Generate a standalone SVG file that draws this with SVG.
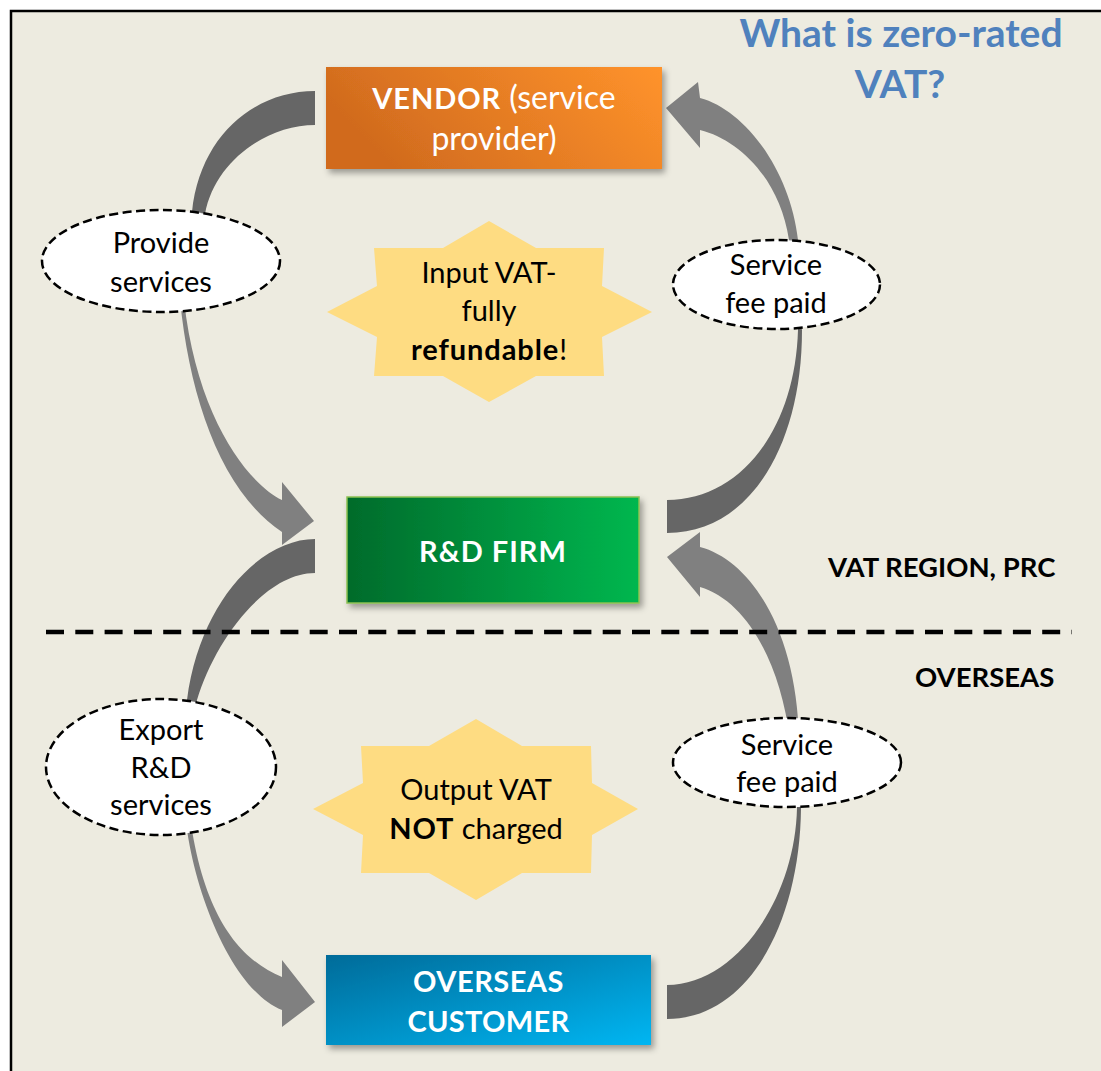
<svg xmlns="http://www.w3.org/2000/svg" width="1101" height="1071" viewBox="0 0 1101 1071">
  <defs>
    <linearGradient id="gVendor" x1="0" y1="0.3" x2="1" y2="0">
      <stop offset="0" stop-color="#D16B1E"/>
      <stop offset="1" stop-color="#FF932B"/>
    </linearGradient>
    <linearGradient id="gFirm" x1="0" y1="0" x2="1" y2="0">
      <stop offset="0" stop-color="#006B2B"/>
      <stop offset="1" stop-color="#00B74F"/>
    </linearGradient>
    <linearGradient id="gCust" x1="0" y1="0" x2="1" y2="1">
      <stop offset="0" stop-color="#006B99"/>
      <stop offset="1" stop-color="#00B6F2"/>
    </linearGradient>
    <filter id="shadow" x="-10%" y="-10%" width="125%" height="135%">
      <feDropShadow dx="3" dy="4" stdDeviation="3" flood-color="#000" flood-opacity="0.35"/>
    </filter>
    <style>
      .back { fill: #666666; }
      .front { fill: #808080; }
      .bubble { fill: #FFFFFF; stroke: #000; stroke-width: 2.5; stroke-dasharray: 9 4.5; }
      .star { fill: #FEDC82; }
      .t { font-family: Lato, "Open Sans", sans-serif; font-size: 29px; fill: #000; text-anchor: middle; }
      .w { fill: #FFFFFF; }
      .b { font-weight: bold; letter-spacing: 0.9px; }
      .lbl { font-family: Lato, "Open Sans", sans-serif; font-size: 27.5px; font-weight: bold; fill: #000; }
      .title { font-family: Lato, "Open Sans", sans-serif; font-size: 39px; font-weight: bold; fill: #4F81BD; text-anchor: middle; }
    </style>
  </defs>

  <!-- page -->
  <rect x="0" y="0" width="1101" height="1071" fill="#FFFFFF"/>
  <rect x="11" y="11" width="1100" height="1070" fill="#EDEBE0" stroke="#000" stroke-width="2.5"/>

  <!-- curved arrows -->
  <g id="connectors">
    <!-- vendor to R&D firm (left, upper) -->
    <path class="back" d="M315,91 C255,91 200,135 192,212 L182,300 L205,214 C215,160 268,125 315,125 Z"/>
    <path class="front" d="M180,300 C190,400 222,492 282,532 L282,545 L314,521 L282,482 L282,500 C250,485 197,420 184,300 Z"/>
    <!-- R&D firm to vendor (right, upper) -->
    <path class="back" d="M667,533 C750,533 802,445 802,330 L794,300 L798,330 C795,430 740,500 667,500 Z"/>
    <path class="front" d="M700,98 C745,110 790,170 798,240 L792,280 L789,240 C780,180 740,140 700,130 L700,148 L666,108 L698,82 Z"/>
    <!-- R&D firm to overseas customer (left, lower) -->
    <path class="back" d="M315,539 C262,539 200,600 187,700 L185,760 L197,700 C215,640 265,573 315,573 Z"/>
    <path class="front" d="M184,800 C188,880 230,990 282,1010 L282,1027 L315,1002 L282,960 L282,977 C240,960 200,915 188,800 Z"/>
    <!-- overseas customer to R&D firm (right, lower) -->
    <path class="back" d="M667,1019 C750,1019 800,920 801,808 L797,790 L797,808 C795,900 735,985 667,985 Z"/>
    <path class="front" d="M700,547 C750,560 797,630 799,740 L790,740 C780,660 745,600 700,587 L700,597 L667,557 L700,532 Z"/>
  </g>

  <!-- region divider -->
  <line id="divider" x1="46" y1="632" x2="1072" y2="632" stroke="#000" stroke-width="4.5" stroke-dasharray="18 11.3"/>

  <!-- callouts -->
  <g id="star-input">
    <polygon class="star" points="489,221 536,248 604,248 602,286 652,312 602,337 604,376 536,376 489,402 443,376 374,376 377,337 327,312 377,286 374,248 443,248"/>
    <text class="t" x="489" y="283">Input VAT-</text>
    <text class="t" x="489" y="321">fully</text>
    <text class="t" x="489" y="360"><tspan class="b">refundable</tspan>!</text>
  </g>
  <g id="star-output">
    <polygon class="star" points="476,719 522,746 591,746 592,783 638,809 592,835 591,873 522,873 476,900 429,873 361,873 363,835 313,809 363,783 361,746 429,746"/>
    <text class="t" x="476" y="800">Output VAT</text>
    <text class="t" x="476" y="839"><tspan class="b">NOT</tspan> charged</text>
  </g>

  <!-- flow labels -->
  <g id="provide">
    <ellipse class="bubble" cx="161" cy="261" rx="119" ry="51"/>
    <text class="t" x="161" y="253">Provide</text>
    <text class="t" x="161" y="292">services</text>
  </g>
  <g id="fee-upper">
    <ellipse class="bubble" cx="776.5" cy="284.5" rx="103.5" ry="44.5"/>
    <text class="t" x="776" y="275">Service</text>
    <text class="t" x="776" y="313">fee paid</text>
  </g>
  <g id="export">
    <ellipse class="bubble" cx="161" cy="767" rx="115" ry="68"/>
    <text class="t" x="161" y="740">Export</text>
    <text class="t" x="161" y="778">R&amp;D</text>
    <text class="t" x="161" y="815">services</text>
  </g>
  <g id="fee-lower">
    <ellipse class="bubble" cx="787" cy="762.5" rx="114" ry="44.5"/>
    <text class="t" x="787" y="755">Service</text>
    <text class="t" x="787" y="792">fee paid</text>
  </g>

  <!-- parties -->
  <g id="vendor">
    <rect x="326" y="67" width="336" height="102" fill="url(#gVendor)" filter="url(#shadow)"/>
    <text class="t w" x="494" y="109" style="font-size:32px"><tspan class="b" style="font-size:29px">VENDOR</tspan> (service</text>
    <text class="t w" x="494" y="150" style="font-size:32px">provider)</text>
  </g>
  <g id="firm">
    <rect x="347" y="497" width="292" height="106" fill="url(#gFirm)" stroke="#8CC152" stroke-width="1.5" filter="url(#shadow)"/>
    <text class="t w b" x="493" y="562" style="letter-spacing:1px">R&amp;D FIRM</text>
  </g>
  <g id="customer">
    <rect x="326" y="955" width="325" height="90" fill="url(#gCust)" filter="url(#shadow)"/>
    <text class="t w b" x="488.5" y="992" style="letter-spacing:0.5px">OVERSEAS</text>
    <text class="t w b" x="488.5" y="1032" style="letter-spacing:0.3px">CUSTOMER</text>
  </g>

  <!-- region names and heading -->
  <text class="lbl" x="828" y="577">VAT REGION, PRC</text>
  <text class="lbl" x="915" y="687">OVERSEAS</text>
  <text class="title" x="901" y="47">What is zero-rated</text>
  <text class="title" x="900" y="98">VAT?</text>
</svg>
